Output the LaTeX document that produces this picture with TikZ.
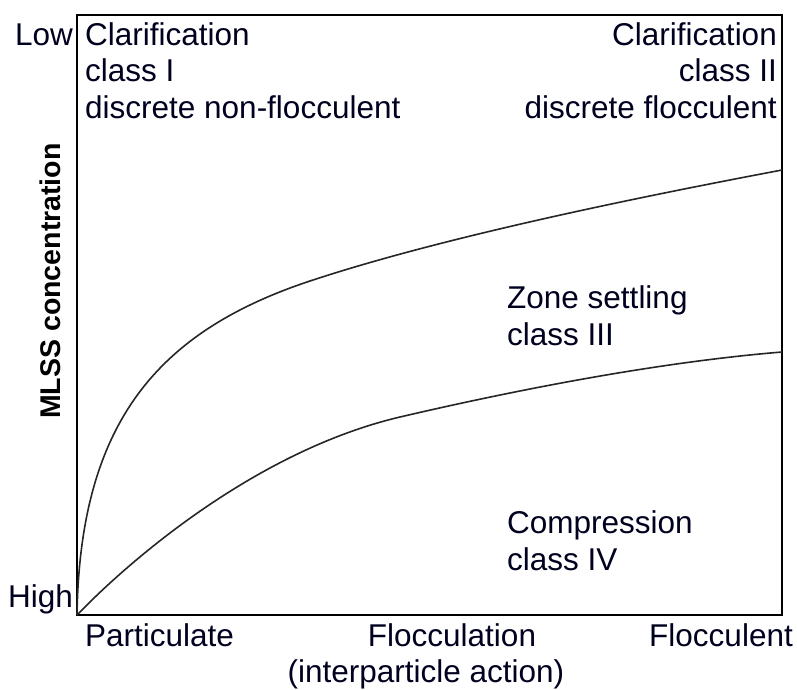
\documentclass[tikz,border=0pt]{standalone}
\usepackage{fontspec}
\setmainfont{Liberation Sans}
\begin{document}
\begin{tikzpicture}[x=1pt,y=-1pt,
  lbl/.style={inner sep=0pt,font=\fontsize{31.5}{36.5}\selectfont,text=black!88!blue},
  axis/.style={line width=1.8pt},
  curve/.style={line width=1.6pt,black!85}]
\useasboundingbox (0,0) rectangle (797,689);
\draw[axis] (77,15) rectangle (782,615);
\draw[curve] (77,615) .. controls (80,420) and (160,330) .. (313,280)
  .. controls (450,235) and (650,195) .. (782,170);
\draw[curve] (77,615) .. controls (135,555) and (260,450) .. (400,417)
  .. controls (520,389) and (660,362) .. (782,352);
\node[lbl,anchor=base east] (low) at (73,45) {Low};
\node[lbl,anchor=base east] (high) at (73,607) {High};
\node[lbl,anchor=base west,align=left] (c1) at (85,118) {Clarification\\class I\\discrete non-flocculent};
\node[lbl,anchor=base east,align=right] (c2) at (777,118) {Clarification\\class II\\discrete flocculent};
\node[lbl,anchor=base west,align=left] (c3) at (507,345) {Zone settling\\class III};
\node[lbl,anchor=base west,align=left] (c4) at (507,570) {Compression\\class IV};
\node[lbl,anchor=base west] (p) at (85,646) {Particulate};
\node[lbl,anchor=base] (f) at (452,646) {Flocculation};
\node[lbl,anchor=base] (fa) at (426,682) {(interparticle action)};
\node[lbl,anchor=base east] (fl) at (793,646) {Flocculent};
\node[lbl,font=\bfseries\fontsize{28.5}{30}\selectfont,text=black,rotate=90] (y) at (50,281) {MLSS concentration};
\end{tikzpicture}
\end{document}
